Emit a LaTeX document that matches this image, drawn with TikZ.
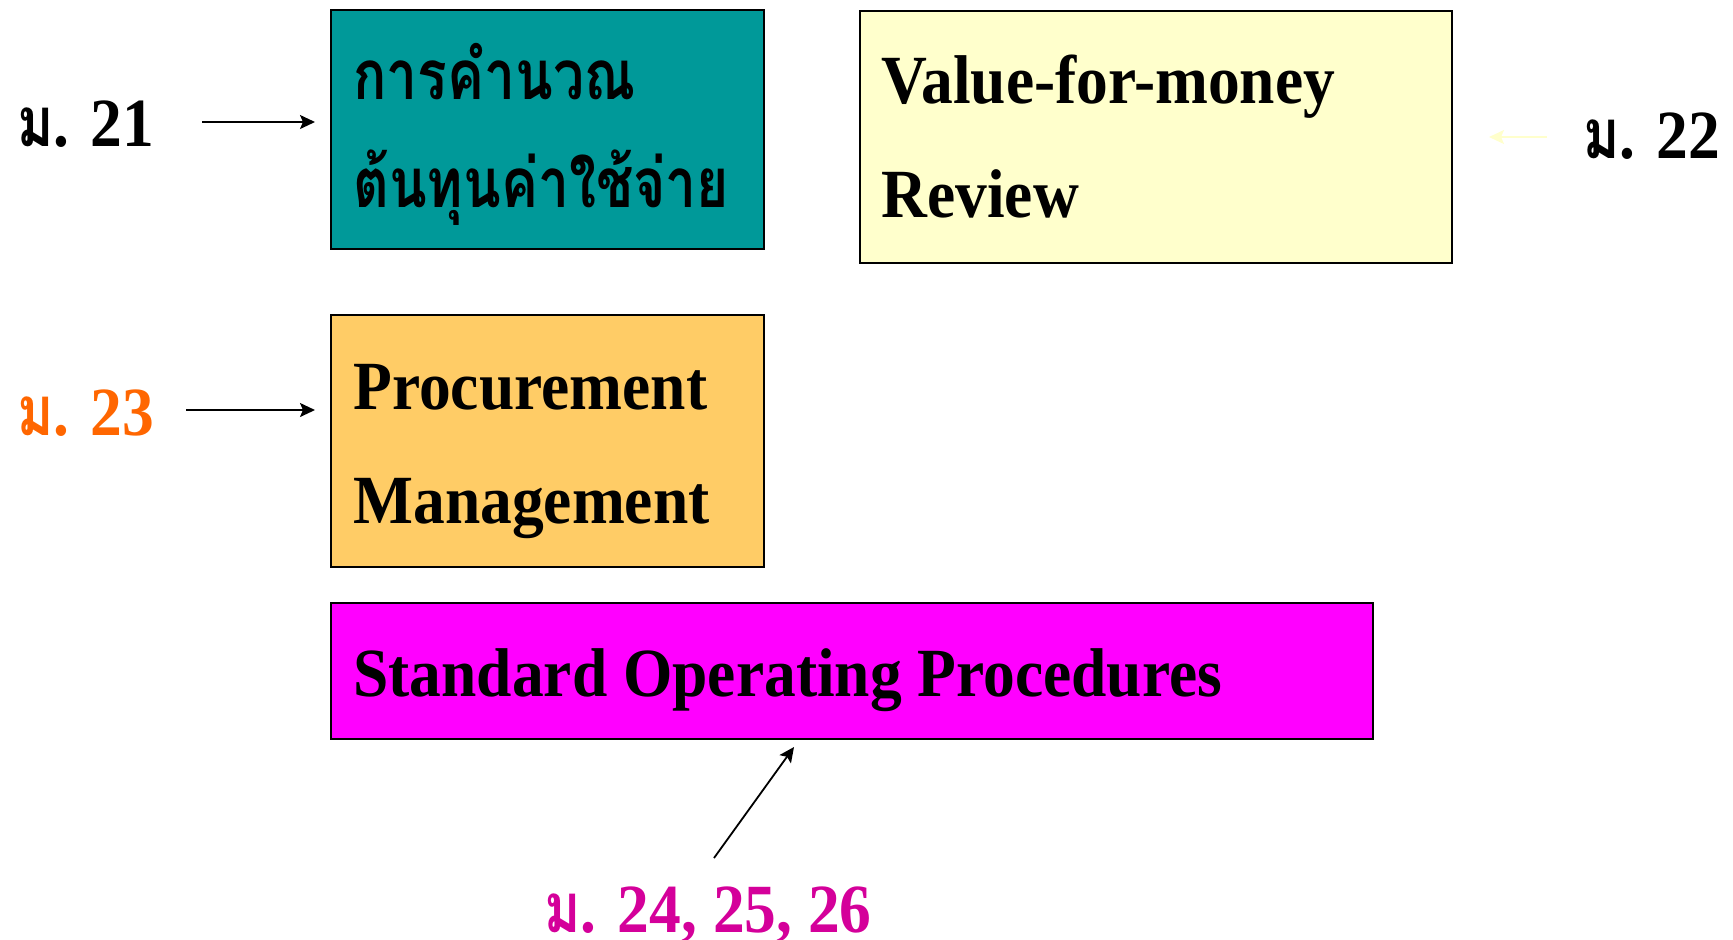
\documentclass[tikz,border=0pt]{standalone}
\usepackage{fontspec}
\setmainfont{Liberation Serif}[FakeStretch=0.92]
\newfontfamily\thai[Script=Thai,FakeStretch=0.80]{Loma}
\usetikzlibrary{arrows.meta}
\definecolor{tealbox}{HTML}{009999}
\definecolor{yelbox}{HTML}{FFFFCC}
\definecolor{orbox}{HTML}{FFCC66}
\definecolor{magbox}{HTML}{FF00FF}
\definecolor{orlab}{HTML}{FF6600}
\definecolor{maglab}{HTML}{D4009A}
\tikzset{
  box/.style={draw=black, line width=1pt, rectangle, inner sep=0pt},
  txt/.style={anchor=base west, inner sep=0pt, font=\fontsize{34.5}{40}\selectfont\bfseries},
  arr/.style={-{Stealth[length=7.5pt,width=7pt,inset=1.5pt]}, line width=0.9pt, draw=black},
}
\begin{document}
\begin{tikzpicture}[x=0.5pt,y=-0.5pt]
\useasboundingbox (0,0) rectangle (1733,939);
% boxes
\node[box, fill=tealbox, minimum width=216.5pt, minimum height=119.5pt, anchor=north west] (teal) at (330,9) {};
\node[box, fill=yelbox, minimum width=296pt, minimum height=126pt, anchor=north west] (vfm) at (859,10) {};
\node[box, fill=orbox, minimum width=216.5pt, minimum height=126pt, anchor=north west] (proc) at (330,314) {};
\node[box, fill=magbox, minimum width=521pt, minimum height=68pt, anchor=north west] (sop) at (330,602) {};
% box texts
\node[txt] (teal1) at (353,99) {\thai การคำนวณ};
\node[txt] (teal2) at (353,207) {\thai ต้นทุนค่าใช้จ่าย};
\node[txt] (vfm1) at (881,103) {Value-for-money};
\node[txt] (vfm2) at (881,217) {Review};
\node[txt] (proc1) at (353,409) {Procurement};
\node[txt] (proc2) at (353,523) {Management};
\node[txt] (sop1) at (353,696) {Standard Operating Procedures};
% labels
\node[txt] (l21) at (17,146) {{\thai ม}. 21};
\node[txt] (l22) at (1583,158) {{\thai ม}. 22};
\node[txt, text=orlab] (l23) at (17,435) {{\thai ม}. 23};
\node[txt, text=maglab] (l24) at (544,932) {{\thai ม}. 24, 25, 26};
% arrows
\coordinate (a21) at (202,122);
\coordinate (a22) at (1547,137);
\coordinate (a23) at (186,410);
\coordinate (a24) at (714,858);
\coordinate (e24) at (794,747);
\draw[arr, shorten >=7.5pt] (a21) -- (teal.west |- a21);
\draw[arr, draw=yelbox, -{Stealth[length=7.5pt,width=7pt,inset=1.5pt,fill=yelbox]}, shorten >=18pt] (a22) -- (vfm.east |- a22);
\draw[arr, shorten >=7.5pt] (a23) -- (proc.west |- a23);
\draw[arr] (a24) -- (e24);
\end{tikzpicture}
\end{document}
